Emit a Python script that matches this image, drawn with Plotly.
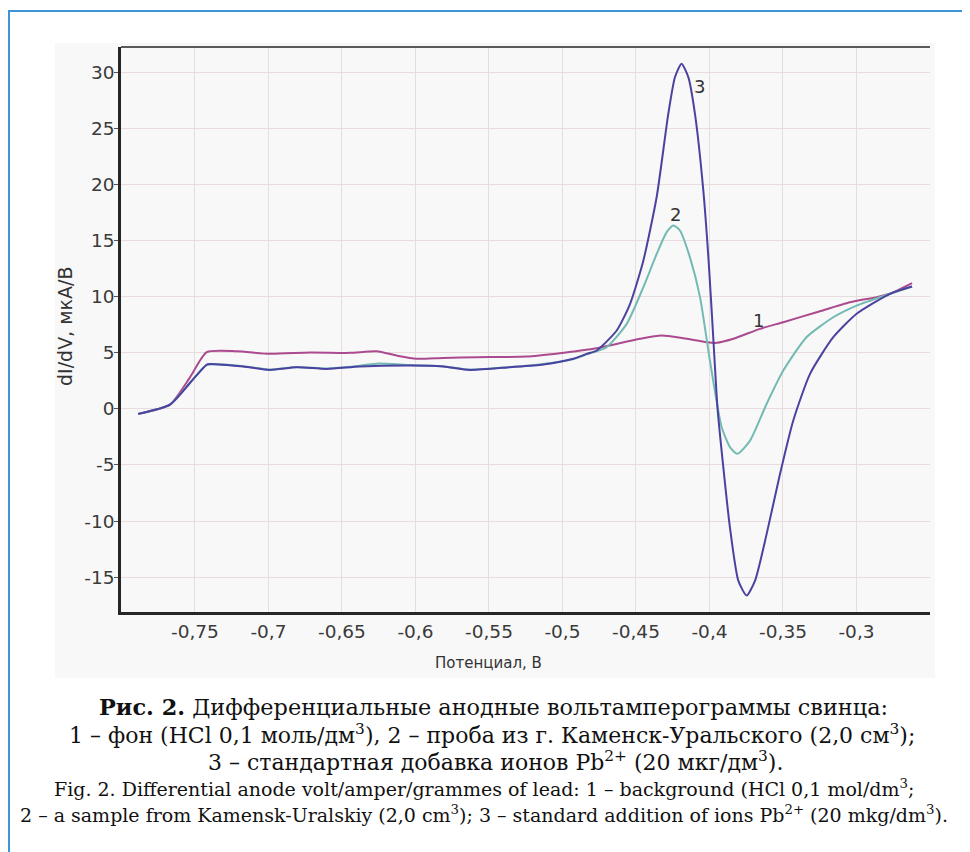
import plotly.graph_objects as go

# ---- data ----
potential_1 = [-0.7886, -0.767, -0.7534, -0.742, -0.7216, -0.699, -0.6718, -0.6446, -0.6264,
               -0.6128, -0.5992, -0.5811, -0.5584, -0.5244, -0.5017, -0.479, -0.4473, -0.4325,
               -0.4178, -0.4019, -0.3951, -0.3838, -0.3656, -0.3498, -0.3271, -0.3044, -0.2863,
               -0.2772, -0.2622]
current_1 = [-0.45, 0.38, 2.8, 5.05, 5.13, 4.9, 5.02, 4.99, 5.13,
             4.75, 4.46, 4.54, 4.6, 4.66, 4.96, 5.35, 6.24, 6.53,
             6.29, 5.94, 5.88, 6.24, 7.13, 7.72, 8.61, 9.5, 9.95,
             10.25, 11.2]

potential_2 = [-0.7886, -0.767, -0.7534, -0.742, -0.7171, -0.699, -0.6808, -0.6604, -0.6378,
               -0.625, -0.6037, -0.5811, -0.563, -0.5357, -0.513, -0.4926, -0.4835, -0.47,
               -0.4563, -0.445, -0.4359, -0.4291, -0.4246, -0.4201, -0.4133, -0.4065, -0.3997,
               -0.3917, -0.386, -0.3811, -0.3724, -0.3611, -0.3498, -0.334, -0.3158, -0.2999,
               -0.2772, -0.2622]
current_2 = [-0.45, 0.38, 2.3, 3.9, 3.8, 3.5, 3.72, 3.6, 3.85,
             4.05, 3.9, 3.8, 3.5, 3.72, 4.0, 4.45, 4.85, 5.49,
             7.57, 10.84, 13.8, 15.74, 16.34, 15.89, 13.5, 10.0, 4.3,
             -1.64, -3.42, -4.01, -2.83, 0.45, 3.41, 6.38, 8.16, 9.2,
             10.25, 10.9]

potential_3 = [-0.7886, -0.767, -0.7534, -0.742, -0.7398, -0.7171, -0.699, -0.6808, -0.6604,
               -0.6378, -0.6037, -0.5811, -0.563, -0.5357, -0.513, -0.4926, -0.4835, -0.4767,
               -0.4631, -0.454, -0.445, -0.4359, -0.428, -0.4235, -0.419, -0.4144, -0.4099,
               -0.4042, -0.4005, -0.3975, -0.3945, -0.3906, -0.3861, -0.3804, -0.3747, -0.369,
               -0.3611, -0.352, -0.343, -0.3316, -0.3158, -0.2999, -0.2772, -0.2622]
current_3 = [-0.45, 0.38, 2.3, 3.95, 4.0, 3.77, 3.47, 3.71, 3.56,
             3.77, 3.86, 3.77, 3.47, 3.71, 3.95, 4.46, 4.9, 5.2,
             6.98, 9.36, 13.2, 18.9, 26.3, 29.55, 30.75, 29.55, 26.3,
             19.46, 13.0, 6.5, 0.0, -5.2, -10.55, -15.3, -16.64, -15.3,
             -11.14, -5.79, -1.04, 3.12, 6.38, 8.47, 10.25, 10.9]

x_tick_vals = [-0.75, -0.7, -0.65, -0.6, -0.55, -0.5, -0.45, -0.4, -0.35, -0.3]
x_tick_text = ["-0,75", "-0,7", "-0,65", "-0,6", "-0,55", "-0,5", "-0,45", "-0,4", "-0,35", "-0,3"]
y_tick_vals = [-15, -10, -5, 0, 5, 10, 15, 20, 25, 30]
y_tick_text = ["-15", "-10", "-5", "0", "5", "10", "15", "20", "25", "30"]

curve_labels = ["1", "2", "3"]
label_x = [-0.3668, -0.4233, -0.4065]
label_y = [7.87, 17.35, 28.75]

caption_lines = [
    "<b>Рис. 2.</b> Дифференциальные анодные вольтамперограммы свинца:",
    "1 – фон (HCl 0,1 моль/дм<sup>3</sup>), 2 – проба из г. Каменск-Уральского (2,0 см<sup>3</sup>);",
    "3 – стандартная добавка ионов Pb<sup>2+</sup> (20 мкг/дм<sup>3</sup>).",
    "Fig. 2. Differential anode volt/amper/grammes of lead: 1 – background (HCl 0,1 mol/dm<sup>3</sup>;",
    "2 – a sample from Kamensk-Uralskiy (2,0 cm<sup>3</sup>); 3 – standard addition of ions Pb<sup>2+</sup> (20 mkg/dm<sup>3</sup>).",
]

# ---- layout geometry (page pixels; the page body adds an 8 px offset) ----
OFF = 8
FW, FH = 970 - OFF, 852 - OFF
L, T, W, H = 121 - OFF, 47 - OFF, 809, 565


def px_x(px):
    return (px - OFF - L) / W


def px_y(py):
    return (T + H - (py - OFF)) / H


fig = go.Figure()
fig.add_trace(go.Scatter(x=potential_1, y=current_1, mode="lines",
                         line=dict(color="#ab4a8e", width=2, shape="spline", smoothing=0.6),
                         showlegend=False, hoverinfo="skip"))
fig.add_trace(go.Scatter(x=potential_2, y=current_2, mode="lines",
                         line=dict(color="#72bab3", width=2, shape="spline", smoothing=0.6),
                         showlegend=False, hoverinfo="skip"))
fig.add_trace(go.Scatter(x=potential_3, y=current_3, mode="lines",
                         line=dict(color="#4a42a0", width=2, shape="spline", smoothing=0.6),
                         showlegend=False, hoverinfo="skip"))

tick_font = dict(family="DejaVu Sans", size=18.5, color="#3a3a3a")

fig.update_layout(
    width=FW, height=FH,
    margin=dict(l=L, r=FW - L - W, t=T, b=FH - T - H, autoexpand=False),
    paper_bgcolor="white",
    plot_bgcolor="#fdfdfd",
    xaxis=dict(range=[-0.8003, -0.25], tickvals=x_tick_vals, ticktext=x_tick_text,
               showgrid=True, gridcolor="#e9dcdc", gridwidth=1, zeroline=False,
               showline=True, linecolor="#262626", linewidth=2.5,
               ticks="", ticklabelstandoff=1, tickfont=tick_font),
    yaxis=dict(range=[-18.1, 32.24], tickvals=y_tick_vals, ticktext=y_tick_text,
               showgrid=True, gridcolor="#e9dcdc", gridwidth=1, zeroline=False,
               showline=True, linecolor="#262626", linewidth=2.5,
               ticks="outside", ticklen=4, tickcolor="#555", ticklabelstandoff=-4,
               tickfont=tick_font),
)

shapes = [
    # light grey image background
    dict(type="rect", xref="paper", yref="paper", x0=px_x(55), x1=px_x(935),
         y0=px_y(678), y1=px_y(43), fillcolor="#f8f8f8", line=dict(width=0), layer="below"),
    # top border of the plot box
    dict(type="line", xref="paper", yref="paper", x0=0, x1=1, y0=1, y1=1,
         line=dict(color="#5a5a5a", width=2)),
    # blue frame
    dict(type="rect", xref="paper", yref="paper", x0=px_x(OFF + 1), x1=px_x(1000),
         y0=px_y(900), y1=px_y(11), line=dict(color="#3d94d6", width=2)),
]
fig.update_layout(shapes=shapes)

annotations = []
for t, xv, yv in zip(curve_labels, label_x, label_y):
    annotations.append(dict(x=xv, y=yv, xref="x", yref="y", text=t, showarrow=False,
                            xanchor="center", yanchor="middle",
                            font=dict(family="DejaVu Sans", size=18, color="#333")))

annotations.append(dict(x=px_x(488), y=px_y(663), xref="paper", yref="paper",
                        text="Потенциал, В", showarrow=False, xanchor="center", yanchor="middle",
                        font=dict(family="DejaVu Sans", size=15, color="#333")))
annotations.append(dict(x=px_x(65), y=px_y(327), xref="paper", yref="paper",
                        text="dI/dV, мкА/В", showarrow=False, textangle=-90,
                        xanchor="center", yanchor="middle",
                        font=dict(family="DejaVu Sans", size=19, color="#333")))

cap_y = [707, 734, 761, 788, 814]
cap_x = [493, 492, 495, 484, 484]
cap_size = [22.4, 22, 22, 19, 19]
for txt, cx, cy, cs in zip(caption_lines, cap_x, cap_y, cap_size):
    annotations.append(dict(x=px_x(cx), y=px_y(cy), xref="paper", yref="paper",
                            text=txt, showarrow=False, xanchor="center", yanchor="middle",
                            font=dict(family="DejaVu Serif", size=cs, color="#111")))

fig.update_layout(annotations=annotations)

fig.write_html("out.html")
